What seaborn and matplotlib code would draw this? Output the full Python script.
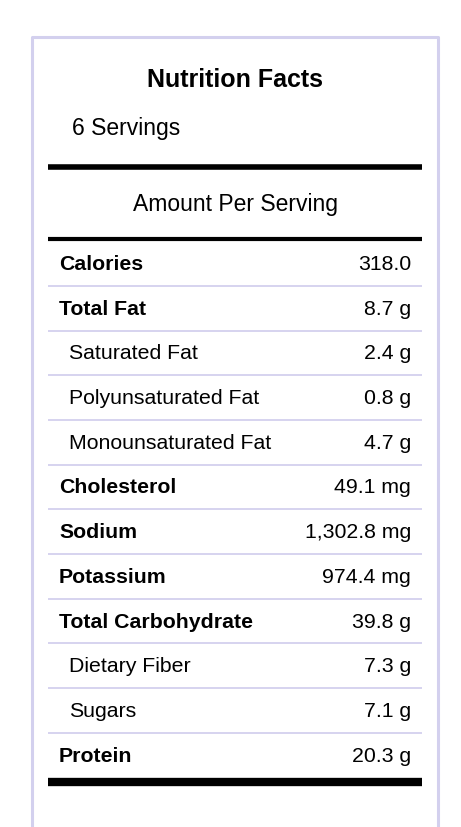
import numpy as np
import matplotlib
matplotlib.use('Agg')
import matplotlib.pyplot as plt
import seaborn as sns

# label data
title = 'Nutrition Facts'
servings = '6 Servings'
amount_text = 'Amount Per Serving'
nutrients = ['Calories', 'Total Fat', 'Saturated Fat', 'Polyunsaturated Fat',
             'Monounsaturated Fat', 'Cholesterol', 'Sodium', 'Potassium',
             'Total Carbohydrate', 'Dietary Fiber', 'Sugars', 'Protein']
amounts = ['318.0', '8.7 g', '2.4 g', '0.8 g', '4.7 g', '49.1 mg', '1,302.8 mg',
           '974.4 mg', '39.8 g', '7.3 g', '7.1 g', '20.3 g']
is_sub = [False, False, True, True, True, False, False, False, False, True, True, False]

sns.set_theme(style='white')
plt.rcParams['font.family'] = ['Liberation Sans', 'DejaVu Sans']
plt.rcParams['text.color'] = 'black'

W, H = 461, 828
fig = plt.figure(figsize=(W / 100, H / 100), dpi=100)
ax = fig.add_axes([0, 0, 1, 1])
ax.set_xlim(0, W)
ax.set_ylim(H, 0)
ax.axis('off')

lav = '#d3d0ee'
# outer border (open at bottom)
ax.plot([32, 32, 438, 438], [H + 5, 38, 38, H + 5], color=lav, lw=2.2)

ax.text(235, 80, title, ha='center', va='center', fontsize=18, fontweight='bold')
ax.text(72, 128, servings, ha='left', va='center', fontsize=16.5)
ax.hlines(168, 48, 422, color='black', lw=4)
ax.text(235, 205, amount_text, ha='center', va='center', fontsize=16.5)
ax.hlines(240, 48, 422, color='black', lw=3)

row0, step = 264.5, 44.7
for i, (name, val, sub) in enumerate(zip(nutrients, amounts, is_sub)):
    y = row0 + i * step
    ax.text(69 if sub else 59, y, name, ha='left', va='center', fontsize=15.3,
            fontweight='normal' if sub else 'bold')
    ax.text(411, y, val, ha='right', va='center', fontsize=15.3)
    if i < len(nutrients) - 1:
        ax.hlines(y + step / 2, 48, 422, color=lav, lw=1.3)
ax.hlines(row0 + (len(nutrients) - 1) * step + 27, 48, 422, color='black', lw=6)

fig.savefig('out.png', dpi=100, facecolor='white')
